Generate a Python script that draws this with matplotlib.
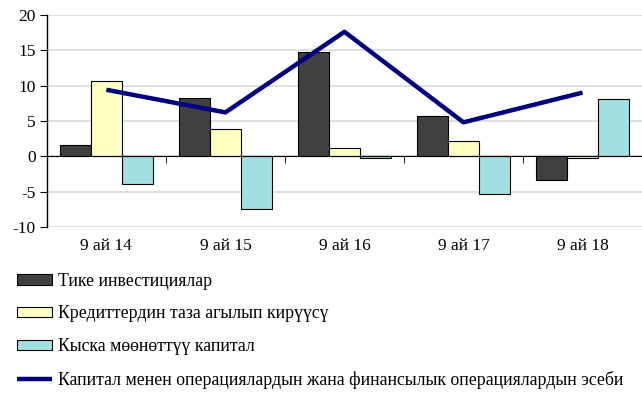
import numpy as np
import matplotlib
matplotlib.use("Agg")
import matplotlib.pyplot as plt

plt.rcParams['font.family'] = ['Liberation Serif', 'DejaVu Serif']
plt.rcParams['axes.unicode_minus'] = False

periods = ["9 ай 14", "9 ай 15", "9 ай 16", "9 ай 17", "9 ай 18"]
direct_inv = [1.6, 8.3, 14.7, 5.7, -3.3]
net_loans = [10.6, 3.9, 1.1, 2.2, -0.2]
short_cap = [-3.9, -7.5, -0.3, -5.4, 8.1]
fin_account = [9.4, 6.2, 17.6, 4.8, 9.0]

labels = ["Тике инвестициялар",
          "Кредиттердин таза агылып кирүүсү",
          "Кыска мөөнөттүү капитал",
          "Капитал менен операциялардын жана финансылык операциялардын эсеби"]

fig = plt.figure(figsize=(6.42, 4.0), dpi=100)
ax = fig.add_axes([0.073, 0.4325, 0.927, 0.5305])

x = np.arange(len(periods))
w = 0.26
ax.bar(x - w, direct_inv, w, color='#404040', edgecolor='black', lw=0.8, label=labels[0], zorder=3)
ax.bar(x, net_loans, w, color='#ffffc0', edgecolor='black', lw=0.8, label=labels[1], zorder=3)
ax.bar(x + w, short_cap, w, color='#a0e0e0', edgecolor='black', lw=0.8, label=labels[2], zorder=3)
ax.plot(x, fin_account, color='#000080', lw=3.2, label=labels[3], zorder=4, solid_capstyle='butt')

ax.set_xlim(-0.5, 4.5)
ax.set_ylim(-10, 20)
ax.set_yticks(range(-10, 21, 5))
ax.yaxis.grid(True, color='#d9d9d9', lw=1.2)
ax.set_axisbelow(True)

for s in ['top', 'right']:
    ax.spines[s].set_visible(False)
ax.spines['bottom'].set_position(('data', 0))
ax.spines['bottom'].set_zorder(5)
ax.spines['left'].set_linewidth(1)

ax.set_xticks(x)
ax.set_xticklabels([])
ax.tick_params(axis='x', which='major', length=0)
ax.set_xticks(np.arange(-0.5, 4.6, 1.0), minor=True)
ax.tick_params(axis='x', which='minor', length=5, direction='out')
ax.tick_params(axis='y', length=5, labelsize=12.5, pad=3)

sec = ax.secondary_xaxis(0.0)
sec.set_xticks(x)
sec.set_xticklabels(periods, fontsize=12.5)
sec.tick_params(length=0, pad=8)
sec.spines['bottom'].set_visible(False)

h, l = ax.get_legend_handles_labels()
order = [1, 2, 3, 0]
fig.legend([h[i] for i in order], [l[i] for i in order],
           loc='upper left', bbox_to_anchor=(0.026, 0.318), frameon=False,
           fontsize=12.8, handlelength=2.0, handleheight=0.5, handletextpad=0.3,
           labelspacing=0.88, borderpad=0, borderaxespad=0)

fig.savefig("out.png", dpi=100)
